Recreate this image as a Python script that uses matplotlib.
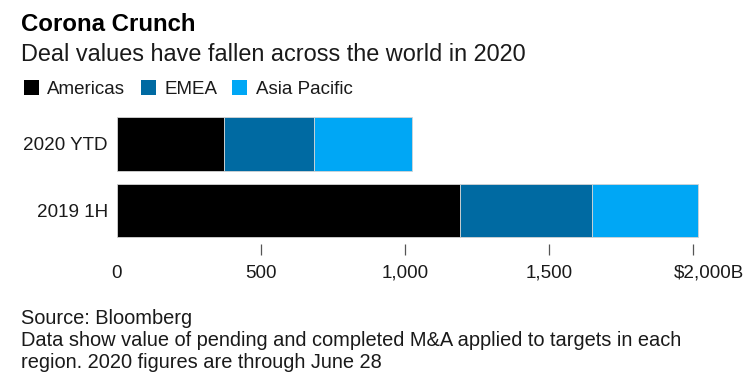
import matplotlib
matplotlib.use("Agg")
import matplotlib.pyplot as plt
from matplotlib.patches import Rectangle
from matplotlib.transforms import ScaledTranslation

plt.rcParams['font.family'] = ['Liberation Sans', 'DejaVu Sans']

categories = ["2019 1H", "2020 YTD"]
series_names = ["Americas", "EMEA", "Asia Pacific"]
americas = [1193, 373]
emea = [457, 310]
asia_pacific = [368, 343]
colors = ["#000000", "#006aa2", "#00a7f5"]
tick_values = [0, 500, 1000, 1500, 2000]
tick_labels = ["0", "500", "1,000", "1,500", "$2,000B"]

W, H = 756, 386
fig = plt.figure(figsize=(W / 100, H / 100), dpi=100)

# axes placement in pixels
x0_px = 117.0
px_per_unit = 0.2878
xmax = 2100
ax_w = xmax * px_per_unit
ax_top = 110.75
ax_bot = 243.75
ax = fig.add_axes([x0_px / W, 1 - ax_bot / H, ax_w / W, (ax_bot - ax_top) / H])

y = list(range(len(categories)))
left = [0] * len(categories)
for vals, name, c in zip([americas, emea, asia_pacific], series_names, colors):
    ax.barh(y, vals, left=left, height=0.8, color=c, edgecolor="#d4d4d4",
            linewidth=0.6, label=name)
    left = [l + v for l, v in zip(left, vals)]

ax.set_xlim(0, xmax)
ax.set_ylim(-0.5, 1.5)
ax.set_yticks(y)
ax.set_yticklabels(categories, fontsize=13.6, color="#1a1a1a")
ax.tick_params(axis="y", length=0, pad=6.5)
ax.set_xticks(tick_values)
ax.set_xticklabels(tick_labels, fontsize=13.6, color="#1a1a1a")
ax.tick_params(axis="x", length=8, width=0.9, color="#555555", pad=7, direction="out")
ax.xaxis.get_major_ticks()[0].tick1line.set_visible(False)
last = ax.get_xticklabels()[-1]
last.set_transform(last.get_transform() + ScaledTranslation(16 / 100, 0, fig.dpi_scale_trans))
for s in ax.spines.values():
    s.set_visible(False)
ax.set_facecolor("none")

# titles
fig.text(21 / W, 1 - 31 / H, "Corona Crunch", fontsize=17.3, fontweight="bold",
         color="#000000", va="baseline", ha="left")
fig.text(21 / W, 1 - 61 / H, "Deal values have fallen across the world in 2020",
         fontsize=16.9, color="#1a1a1a", va="baseline", ha="left")

# legend
leg_sq = [24.0, 141.0, 232.0]
leg_tx = [47.0, 164.0, 256.0]
for sx, tx, name, c in zip(leg_sq, leg_tx, series_names, colors):
    fig.patches.append(Rectangle((sx / W, 1 - 95 / H), 15 / W, 15 / H,
                                 transform=fig.transFigure, facecolor=c,
                                 edgecolor="none"))
    fig.text(tx / W, 1 - 94 / H, name, fontsize=13.5, color="#1a1a1a",
             va="baseline", ha="left")

# footer
fig.text(21 / W, 1 - 324 / H, "Source: Bloomberg", fontsize=14.4, color="#1a1a1a",
         va="baseline", ha="left")
fig.text(21 / W, 1 - 346 / H,
         "Data show value of pending and completed M&A applied to targets in each",
         fontsize=14.4, color="#1a1a1a", va="baseline", ha="left")
fig.text(21 / W, 1 - 368 / H, "region. 2020 figures are through June 28",
         fontsize=14.4, color="#1a1a1a", va="baseline", ha="left")

fig.savefig("out.png", dpi=100, facecolor="white")
